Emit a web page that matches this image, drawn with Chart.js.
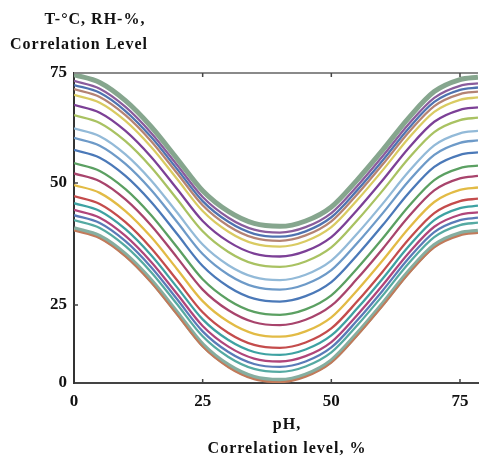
<!DOCTYPE html>
<html>
<head>
<meta charset="utf-8">
<script src="https://cdn.jsdelivr.net/npm/chart.js@4/dist/chart.umd.min.js"></script>
<style>
  body { margin: 0; background: #fff; }
  #wrap { position: relative; width: 481px; height: 457px; }
</style>
</head>
<body>
<div id="wrap"><canvas id="chart" width="481" height="457"></canvas></div>
<script>
const xValues = [0, 5, 10, 15, 20, 25, 30, 35, 40, 45, 50, 55, 60, 65, 70, 75, 78.5];

// curves, top to bottom
const curve01 = [74.6, 72.7, 68.3, 62.0, 54.3, 46.5, 41.5, 38.6, 37.9, 39.2, 42.6, 49.1, 56.4, 64.1, 70.5, 73.4, 74.0];
const curve02 = [73.1, 71.2, 66.8, 60.5, 52.8, 45.0, 40.0, 37.1, 36.4, 37.7, 41.1, 47.6, 54.9, 62.6, 69.0, 71.9, 72.5];
const curve03 = [72.1, 70.2, 65.8, 59.5, 51.8, 44.0, 39.0, 36.1, 35.4, 36.7, 40.1, 46.6, 53.9, 61.6, 68.0, 70.9, 71.5];
const curve04 = [71.1, 69.2, 64.8, 58.5, 50.8, 43.0, 38.0, 35.1, 34.4, 35.7, 39.1, 45.6, 52.9, 60.6, 67.0, 69.9, 70.5];
const curve05 = [69.7, 67.8, 63.4, 57.1, 49.4, 41.6, 36.6, 33.7, 33.0, 34.3, 37.7, 44.2, 51.5, 59.2, 65.6, 68.5, 69.1];
const curve06 = [67.3, 65.4, 61.0, 54.7, 47.0, 39.2, 34.2, 31.3, 30.6, 31.9, 35.3, 41.8, 49.1, 56.8, 63.2, 66.1, 66.7];
const curve07 = [64.8, 62.9, 58.5, 52.2, 44.5, 36.7, 31.7, 28.8, 28.1, 29.4, 32.8, 39.3, 46.6, 54.3, 60.7, 63.6, 64.2];
const curve08 = [61.6, 59.7, 55.3, 49.0, 41.3, 33.5, 28.5, 25.6, 24.9, 26.2, 29.6, 36.1, 43.4, 51.1, 57.5, 60.4, 61.0];
const curve09 = [59.3, 57.4, 53.0, 46.7, 39.0, 31.2, 26.2, 23.3, 22.6, 23.9, 27.3, 33.8, 41.1, 48.8, 55.2, 58.1, 58.7];
const curve10 = [56.4, 54.5, 50.1, 43.8, 36.1, 28.3, 23.3, 20.4, 19.7, 21.0, 24.4, 30.9, 38.2, 45.9, 52.3, 55.2, 55.8];
const curve11 = [53.2, 51.3, 46.9, 40.6, 32.9, 25.1, 20.1, 17.2, 16.5, 17.8, 21.2, 27.7, 35.0, 42.7, 49.1, 52.0, 52.6];
const curve12 = [50.7, 48.8, 44.4, 38.1, 30.4, 22.6, 17.6, 14.7, 14.0, 15.3, 18.7, 25.2, 32.5, 40.2, 46.6, 49.5, 50.1];
const curve13 = [47.9, 46.0, 41.6, 35.3, 27.6, 19.8, 14.8, 11.9, 11.2, 12.5, 15.9, 22.4, 29.7, 37.4, 43.8, 46.7, 47.3];
const curve14 = [45.2, 43.3, 38.9, 32.6, 24.9, 17.1, 12.1, 9.2, 8.5, 9.8, 13.2, 19.7, 27.0, 34.7, 41.1, 44.0, 44.6];
const curve15 = [43.5, 41.6, 37.2, 30.9, 23.2, 15.4, 10.4, 7.5, 6.8, 8.1, 11.5, 18.0, 25.3, 33.0, 39.4, 42.3, 42.9];
const curve16 = [41.9, 40.0, 35.6, 29.3, 21.6, 13.8, 8.8, 5.9, 5.2, 6.5, 9.9, 16.4, 23.7, 31.4, 37.8, 40.7, 41.3];
const curve17 = [40.6, 38.7, 34.3, 28.0, 20.3, 12.5, 7.5, 4.6, 3.9, 5.2, 8.6, 15.1, 22.4, 30.1, 36.5, 39.4, 40.0];
const curve18 = [39.4, 37.5, 33.1, 26.8, 19.1, 11.3, 6.3, 3.4, 2.7, 4.0, 7.4, 13.9, 21.2, 28.9, 35.3, 38.2, 38.8];
const curve19 = [37.4, 35.5, 31.1, 24.8, 17.1, 9.3, 4.3, 1.4, 0.7, 2.0, 5.4, 11.9, 19.2, 26.9, 33.3, 36.2, 36.8];
// thin brown edge just under the bottom curve
const curve20 = [36.9, 35.0, 30.6, 24.3, 16.6, 8.8, 3.8, 0.9, 0.2, 1.5, 4.9, 11.4, 18.7, 26.4, 32.8, 35.7, 36.3];

const curves = [curve20, curve01, curve02, curve03, curve04, curve05, curve06, curve07, curve08, curve09, curve10,
                curve11, curve12, curve13, curve14, curve15, curve16, curve17, curve18, curve19];

const curveColors = ['#c27a5a', '#86a68e', '#8a5c9c', '#4f73b0', '#b48374', '#d9cb62', '#7c4096', '#a9c262',
                     '#93bad8', '#6d9ac8', '#4b79b8', '#5ba062', '#a8446c', '#e2bb45', '#c44c4c',
                     '#3ea2a2', '#b0457a', '#5a7bb8', '#55aaa2', '#86aea0'];
const curveWidths = [2, 5, 2.3, 2.3, 2.3, 2.3, 2.3, 2.3, 2.3, 2.3, 2.3, 2.3, 2.3, 2.3, 2.3, 2.3, 2.3, 2.3, 2.3, 4.5];

// axis ticks
const xTickValues = [0, 25, 50, 75];
const xTickLabels = ['0', '25', '50', '75'];
const yTickValues = [0, 18.9, 48.4, 75];
const yTickLabels = ['0', '25', '50', '75'];

const yTitle = ['T-\u00B0C, RH-%,', 'Correlation Level'];
const xTitle = ['pH,', 'Correlation level, %'];

const serif = "'Liberation Serif', 'DejaVu Serif', serif";

const datasets = curves.map((vals, i) => ({
    data: vals.map((v, j) => ({ x: xValues[j], y: v })),
    borderColor: curveColors[i],
    borderWidth: curveWidths[i],
    pointRadius: 0,
    cubicInterpolationMode: 'monotone',
    fill: false
}));

// titles, top frame line and inner tick marks
const decorations = {
    id: 'decorations',
    afterDraw(chart) {
        const ctx = chart.ctx;
        const a = chart.chartArea;
        const xs = chart.scales.x;
        const ys = chart.scales.y;
        ctx.save();

        ctx.strokeStyle = '#8a8a8a';
        ctx.lineWidth = 2;
        ctx.beginPath();
        ctx.moveTo(a.left, a.top);
        ctx.lineTo(a.right, a.top);
        ctx.stroke();

        ctx.strokeStyle = '#444';
        ctx.lineWidth = 1.5;
        ctx.beginPath();
        xTickValues.slice(1).forEach(v => {
            const px = xs.getPixelForValue(v);
            ctx.moveTo(px, a.bottom);
            ctx.lineTo(px, a.bottom - 4);
            ctx.moveTo(px, a.top);
            ctx.lineTo(px, a.top + 4);
        });
        yTickValues.slice(1, 3).forEach(v => {
            const py = ys.getPixelForValue(v);
            ctx.moveTo(a.left, py);
            ctx.lineTo(a.left + 4, py);
        });
        ctx.stroke();

        ctx.fillStyle = '#111';
        ctx.font = 'bold 16px ' + serif;
        ctx.letterSpacing = '1px';
        ctx.textAlign = 'center';
        ctx.textBaseline = 'middle';
        ctx.fillText(yTitle[0], 95, 20);
        ctx.fillText(yTitle[1], 79, 45);
        ctx.fillText(xTitle[0], 287, 425);
        ctx.fillText(xTitle[1], 287, 449);
        ctx.restore();
    }
};

new Chart(document.getElementById('chart'), {
    type: 'line',
    data: { datasets: datasets },
    options: {
        responsive: false,
        animation: false,
        layout: { padding: { left: 0, top: 73, right: 3, bottom: 0 } },
        plugins: { legend: { display: false }, tooltip: { enabled: false } },
        scales: {
            x: {
                type: 'linear',
                min: 0,
                max: 78.5,
                afterBuildTicks: s => { s.ticks = xTickValues.map(v => ({ value: v })); },
                afterFit: s => { s.height = 74; },
                grid: { display: false, drawTicks: false },
                border: { display: true, color: '#444', width: 2 },
                ticks: {
                    padding: 8,
                    color: '#111',
                    font: { family: serif, size: 17, weight: 'bold' },
                    callback: (v, i) => xTickLabels[i]
                }
            },
            y: {
                type: 'linear',
                min: 0,
                max: 75,
                afterBuildTicks: s => { s.ticks = yTickValues.map(v => ({ value: v })); },
                afterFit: s => { s.width = 74; },
                grid: { display: false, drawTicks: false },
                border: { display: true, color: '#333', width: 2 },
                ticks: {
                    padding: 7,
                    color: '#111',
                    font: { family: serif, size: 17, weight: 'bold' },
                    callback: (v, i) => yTickLabels[i]
                }
            }
        }
    },
    plugins: [decorations]
});
</script>
</body>
</html>
